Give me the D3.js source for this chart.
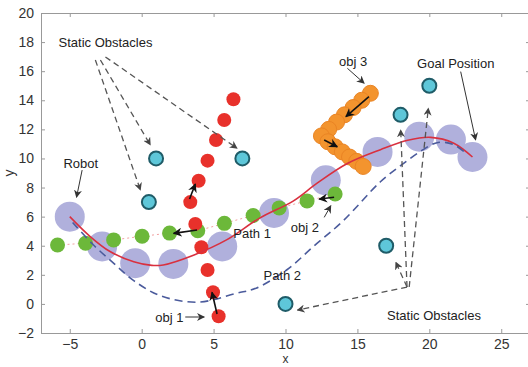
<!DOCTYPE html>
<html>
<head>
<meta charset="utf-8">
<script src="https://cdn.jsdelivr.net/npm/d3@7"></script>
<style>
  body { margin: 0; background: #fff; }
  text { font-family: "Liberation Sans", Arial, sans-serif; }
</style>
</head>
<body>
<div id="canvas"></div>
<script>
// robot poses along path 1
const robotX = [-5, -2.75, -0.45, 2.2, 5.6, 9.2, 12.8, 16.4, 19.3, 21.5, 23.0];
const robotY = [6.0, 3.95, 2.8, 2.75, 3.95, 6.25, 8.5, 10.45, 11.5, 11.3, 10.1];

// path 1 (red solid)
const path1X = [-5, -3.6, -2.2, -0.55, 0.7, 1.5, 3.6, 5.9, 8.2, 10.5, 12.2, 14.3, 16.6, 18.5, 20.1, 21.7, 23.0];
const path1Y = [6.0, 4.65, 3.6, 2.9, 2.65, 2.68, 3.35, 4.4, 5.9, 7.05, 8.3, 9.65, 10.6, 11.25, 11.45, 11.05, 10.1];

// path 2 (blue dashed)
const path2X = [-4.8, -3.4, -1.9, -0.55, 1.3, 3.9, 6.6, 8.0, 10.1, 12.0, 14.0, 16.6, 18.0, 19.4, 20.6, 21.7, 22.6];
const path2Y = [5.6, 4.1, 2.75, 1.6, 0.56, 0.12, 0.73, 1.1, 2.35, 4.0, 5.7, 8.4, 9.5, 10.5, 11.1, 10.95, 10.3];

// obj 1 (red)
const obj1X = [6.38, 5.74, 5.17, 4.58, 3.96, 3.38, 3.73, 4.15, 4.58, 4.96, 5.35];
const obj1Y = [14.07, 12.64, 11.27, 9.85, 8.47, 7.0, 5.5, 3.9, 2.33, 0.8, -0.85];

// obj 2 (green)
const obj2X = [-5.85, -3.9, -1.95, 0.03, 1.94, 3.9, 5.75, 7.75, 9.56, 11.5, 13.45];
const obj2Y = [4.05, 4.17, 4.4, 4.65, 4.87, 5.03, 5.54, 6.08, 6.6, 7.08, 7.56];

// obj 3 (orange)
const obj3X = [15.9, 15.3, 14.7, 14.1, 13.55, 13.0, 12.5, 12.95, 13.45, 13.95, 14.45, 14.95, 15.4];
const obj3Y = [14.48, 14.0, 13.5, 13.0, 12.5, 12.0, 11.55, 11.15, 10.8, 10.45, 10.1, 9.8, 9.45];

// static obstacles (cyan)
const obsX = [1, 7, 0.5, 17, 10, 18, 20];
const obsY = [10, 10, 7, 4, 0, 13, 15];

// motion arrows [x1, y1, x2, y2]
const motionArrows = [
  [5.24, -0.69, 4.89, 0.8],
  [3.33, 7.21, 3.73, 8.24],
  [3.85, 5.08, 2.22, 4.85],
  [13.38, 7.33, 12.34, 7.21],
  [15.8, 14.25, 14.2, 12.87],
  [12.69, 11.27, 13.6, 10.8]
];

// label pointer arrows (thin solid)
const pointerArrows = [
  [-4.14, 9.2, -4.53, 7.33],
  [22.18, 15.97, 23.22, 11.27],
  [14.3, 16.2, 15.47, 15.17],
  [3.03, -0.9, 4.35, -0.9],
  [12.69, 5.95, 13.15, 6.75]
];

// static obstacle pointers (dashed)
const dashedArrows = [
  [-3.22, 16.77, -0.09, 7.83],
  [-2.87, 16.77, 0.6, 10.93],
  [-2.52, 16.98, 6.63, 10.7],
  [18.45, 1.16, 10.83, -0.42],
  [18.45, 1.16, 17.67, 2.86],
  [18.45, 1.16, 18.01, 11.96],
  [18.6, 1.16, 19.93, 13.45]
];

const labels = ["Static Obstacles", "Robot", "Path 1", "Path 2", "obj 1", "obj 2", "obj 3", "Goal Position", "Static Obstacles"];
const labelX = [-5.78, -5.44, 6.37, 8.47, 0.95, 10.37, 13.72, 19.15, 17.06];
const labelY = [17.66, 9.34, 4.53, 1.64, -1.24, 4.94, 16.36, 16.22, -1.1];

const xTicks = [-5, 0, 5, 10, 15, 20, 25];
const yTicks = [-2, 0, 2, 4, 6, 8, 10, 12, 14, 16, 18, 20];

const width = 528;
const height = 367;
const margin = { top: 13, left: 41, bottom: 34, right: -2 };
const iwidth = width - margin.left - margin.right;
const iheight = height - margin.top - margin.bottom;

const svg = d3.select("#canvas").append("svg")
  .attr("width", width)
  .attr("height", height);

const defs = svg.append("defs");
function marker(id, color, size) {
  defs.append("marker")
    .attr("id", id)
    .attr("viewBox", "0 0 10 10")
    .attr("refX", 9).attr("refY", 5)
    .attr("markerWidth", size).attr("markerHeight", size)
    .attr("markerUnits", "userSpaceOnUse")
    .attr("orient", "auto")
    .append("path")
    .attr("d", "M0,0 L10,5 L0,10 L3,5 Z")
    .attr("fill", color);
}
marker("headBlack", "#111", 9);
marker("headThin", "#333", 8);
marker("headDash", "#444", 8);

const g = svg.append("g").attr("transform", `translate(${margin.left},${margin.top})`);

const x = d3.scaleLinear().domain([-7, 27]).range([0, iwidth]);
const y = d3.scaleLinear().domain([-2, 20]).range([iheight, 0]);

// axes box
const axisColor = "#999";
function styleAxis(sel) {
  sel.select(".domain").attr("stroke", axisColor);
  sel.selectAll(".tick line").attr("stroke", axisColor);
  sel.selectAll(".tick text").attr("fill", "#333").style("font-size", "14px");
}
g.append("g").attr("transform", `translate(0,${iheight})`)
  .call(d3.axisBottom(x).tickValues(xTicks).tickSizeInner(-4).tickSizeOuter(0).tickPadding(6))
  .call(styleAxis);
g.append("g")
  .call(d3.axisTop(x).tickValues(xTicks).tickSizeInner(-4).tickSizeOuter(0).tickFormat(""))
  .call(styleAxis);
g.append("g")
  .call(d3.axisLeft(y).tickValues(yTicks).tickSizeInner(-4).tickSizeOuter(0).tickPadding(7))
  .call(styleAxis);
g.append("g").attr("transform", `translate(${iwidth},0)`)
  .call(d3.axisRight(y).tickValues(yTicks).tickSizeInner(-4).tickSizeOuter(0).tickFormat(""))
  .call(styleAxis);

g.append("text").attr("x", x(10)).attr("y", iheight + 30)
  .attr("text-anchor", "middle").attr("fill", "#333").style("font-size", "12px").text("x");
g.append("text").attr("transform", `translate(-27,${y(9)}) rotate(-90)`)
  .attr("text-anchor", "middle").attr("fill", "#333").style("font-size", "14px").text("y");

// robot circles
g.selectAll(".robot").data(robotX).enter().append("circle")
  .attr("class", "robot")
  .attr("cx", d => x(d)).attr("cy", (d, i) => y(robotY[i]))
  .attr("r", 15).attr("fill", "#b0b0dc");

// obj 2 dotted trail
const line = d3.line().x(d => x(d[0])).y(d => y(d[1]));
g.append("path").datum(obj2X.map((d, i) => [d, obj2Y[i]]))
  .attr("d", line).attr("fill", "none")
  .attr("stroke", "#f2a0a0").attr("stroke-width", 1).attr("stroke-dasharray", "2,3");

g.selectAll(".obj2").data(obj2X).enter().append("circle")
  .attr("cx", d => x(d)).attr("cy", (d, i) => y(obj2Y[i]))
  .attr("r", 7.5).attr("fill", "#6cb83a");

g.selectAll(".obj1").data(obj1X).enter().append("circle")
  .attr("cx", d => x(d)).attr("cy", (d, i) => y(obj1Y[i]))
  .attr("r", 7).attr("fill", "#e8312b");

g.selectAll(".obj3").data(obj3X).enter().append("circle")
  .attr("cx", d => x(d)).attr("cy", (d, i) => y(obj3Y[i]))
  .attr("r", 8).attr("fill", "#f3942e").attr("stroke", "#ea8424").attr("stroke-width", 1);

// paths
const curve = d3.line().x(d => x(d[0])).y(d => y(d[1])).curve(d3.curveCatmullRom);
g.append("path").datum(path1X.map((d, i) => [d, path1Y[i]]))
  .attr("d", curve).attr("fill", "none")
  .attr("stroke", "#d9303f").attr("stroke-width", 1.6);
g.append("path").datum(path2X.map((d, i) => [d, path2Y[i]]))
  .attr("d", curve).attr("fill", "none")
  .attr("stroke", "#4b5b9c").attr("stroke-width", 1.6).attr("stroke-dasharray", "8,5");

// static obstacles
g.selectAll(".obs").data(obsX).enter().append("circle")
  .attr("cx", d => x(d)).attr("cy", (d, i) => y(obsY[i]))
  .attr("r", 7).attr("fill", "#5ec7d9").attr("stroke", "#1f5c68").attr("stroke-width", 2);

// arrows
function arrows(data, color, w, dash, head) {
  g.selectAll(null).data(data).enter().append("line")
    .attr("x1", d => x(d[0])).attr("y1", d => y(d[1]))
    .attr("x2", d => x(d[2])).attr("y2", d => y(d[3]))
    .attr("stroke", color).attr("stroke-width", w)
    .attr("stroke-dasharray", dash)
    .attr("marker-end", `url(#${head})`);
}
arrows(dashedArrows, "#555", 1.3, "6,4", "headDash");
arrows(pointerArrows, "#333", 1, null, "headThin");
arrows(motionArrows, "#111", 1.6, null, "headBlack");

// labels
g.selectAll(".lbl").data(labels).enter().append("text")
  .attr("x", (d, i) => x(labelX[i])).attr("y", (d, i) => y(labelY[i]))
  .attr("fill", "#222").style("font-size", "13px")
  .text(d => d);
</script>
</body>
</html>
